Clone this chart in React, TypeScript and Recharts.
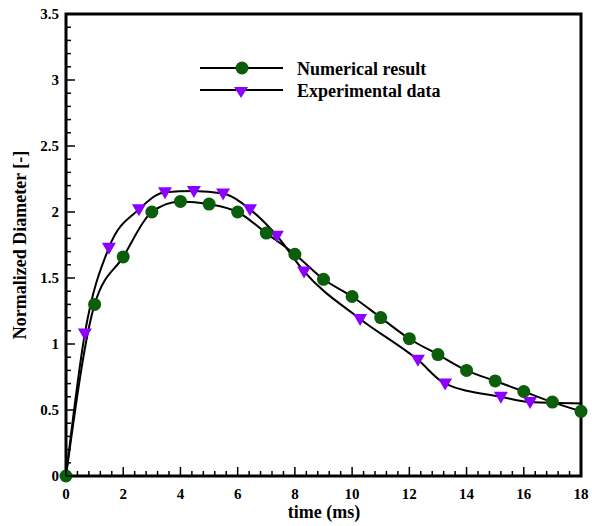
import { LineChart, Line, XAxis, YAxis, ReferenceArea } from "recharts"

// numerical result (green circles)
const numTime = [0, 1, 2, 3, 4, 5, 6, 7, 8, 9, 10, 11, 12, 13, 14, 15, 16, 17, 18]
const numDiameter = [0, 1.3, 1.66, 2.0, 2.08, 2.06, 2.0, 1.84, 1.68, 1.49, 1.36, 1.2, 1.04, 0.92, 0.8, 0.72, 0.64, 0.56, 0.49]

// experimental data (purple triangles); first and last points only carry the curve
const expTime = [0, 0.66, 1.5, 2.55, 3.46, 4.47, 5.49, 6.43, 7.37, 8.32, 10.28, 12.3, 13.25, 15.2, 16.22, 18]
const expDiameter = [0, 1.08, 1.73, 2.02, 2.15, 2.16, 2.14, 2.02, 1.82, 1.55, 1.19, 0.88, 0.7, 0.6, 0.56, 0.55]

const xTicks = [0, 2, 4, 6, 8, 10, 12, 14, 16, 18]
const yTicks = [0, 0.5, 1, 1.5, 2, 2.5, 3, 3.5]

const xMinor: number[] = []
for (let i = 0; i <= 45; i++) xMinor.push(Math.round(i * 0.4 * 10) / 10)
const yMinor: number[] = []
for (let i = 0; i <= 35; i++) yMinor.push(Math.round(i * 0.1 * 10) / 10)

const numData = numTime.map((t, i) => ({ x: t, y: numDiameter[i] }))
const expData = expTime.map((t, i) => ({ x: t, y: expDiameter[i] }))

const GREEN = "#0b5e0b"
const PURPLE = "#8c00ff"
const FONT = "'Liberation Serif', 'Times New Roman', serif"

const isMajor = (v: number, list: number[]) => list.some((m) => Math.abs(m - v) < 1e-6)

function XTick(props: any) {
  const { x, y, payload } = props
  const major = isMajor(payload.value, xTicks)
  return (
    <g>
      <line x1={x} y1={y} x2={x} y2={y - (major ? 9 : 5)} stroke="#000" strokeWidth={1.5} />
      {major && (
        <text x={x} y={y + 23} textAnchor="middle" fontFamily={FONT} fontWeight="bold" fontSize={15} fill="#000">
          {payload.value}
        </text>
      )}
    </g>
  )
}

function YTick(props: any) {
  const { x, y, payload } = props
  const major = isMajor(payload.value, yTicks)
  return (
    <g>
      <line x1={x} y1={y} x2={x + (major ? 9 : 5)} y2={y} stroke="#000" strokeWidth={1.5} />
      {major && (
        <text x={x - 7} y={y + 5} textAnchor="end" fontFamily={FONT} fontWeight="bold" fontSize={15} fill="#000">
          {payload.value}
        </text>
      )}
    </g>
  )
}

function CircleDot(props: any) {
  const { cx, cy, index } = props
  return <circle key={index} cx={cx} cy={cy} r={6.5} fill={GREEN} />
}

function TriangleDot(props: any) {
  const { cx, cy, index } = props
  if (index === 0 || index === expData.length - 1) return <g key={index} />
  return (
    <polygon
      key={index}
      points={`${cx - 7},${cy - 5} ${cx + 7},${cy - 5} ${cx},${cy + 7}`}
      fill={PURPLE}
    />
  )
}

export default function App() {
  return (
    <div style={{ position: "absolute", left: 0, top: 0, background: "#fff" }}>
      <LineChart width={592} height={526} margin={{ top: 14, right: 11, left: 0, bottom: 0 }}>
        <XAxis
          type="number"
          dataKey="x"
          domain={[0, 18]}
          ticks={xMinor}
          interval={0}
          tick={<XTick />}
          tickSize={0}
          tickMargin={0}
          tickLine={false}
          axisLine={false}
          height={50}
        />
        <YAxis
          type="number"
          dataKey="y"
          domain={[0, 3.5]}
          ticks={yMinor}
          interval={0}
          tick={<YTick />}
          tickSize={0}
          tickMargin={0}
          tickLine={false}
          axisLine={false}
          width={66}
        />
        <ReferenceArea x1={0} x2={18} y1={0} y2={3.5} fill="none" stroke="#000" strokeWidth={3} fillOpacity={0} />
        <Line
          data={expData}
          dataKey="y"
          type="monotone"
          stroke="#000"
          strokeWidth={2}
          dot={<TriangleDot />}
          activeDot={false}
          isAnimationActive={false}
        />
        <Line
          data={numData}
          dataKey="y"
          type="monotone"
          stroke="#000"
          strokeWidth={2}
          dot={<CircleDot />}
          activeDot={false}
          isAnimationActive={false}
        />
        {/* legend */}
        <g>
          <line x1={200} y1={68} x2={283} y2={68} stroke="#000" strokeWidth={2} />
          <circle cx={242} cy={68} r={6.5} fill={GREEN} />
          <text x={297} y={75} fontFamily={FONT} fontWeight="bold" fontSize={18} fill="#000">
            Numerical result
          </text>
          <line x1={200} y1={90} x2={283} y2={90} stroke="#000" strokeWidth={2} />
          <polygon points="234,87 248,87 241,98" fill={PURPLE} />
          <text x={297} y={97} fontFamily={FONT} fontWeight="bold" fontSize={18} fill="#000">
            Experimental data
          </text>
        </g>
        <text x={324} y={518} textAnchor="middle" fontFamily={FONT} fontWeight="bold" fontSize={18} fill="#000">
          time (ms)
        </text>
        <text
          x={0}
          y={0}
          transform="translate(26,245) rotate(-90)"
          textAnchor="middle"
          fontFamily={FONT}
          fontWeight="bold"
          fontSize={18}
          fill="#000"
        >
          Normalized Diameter [-]
        </text>
      </LineChart>
    </div>
  )
}
